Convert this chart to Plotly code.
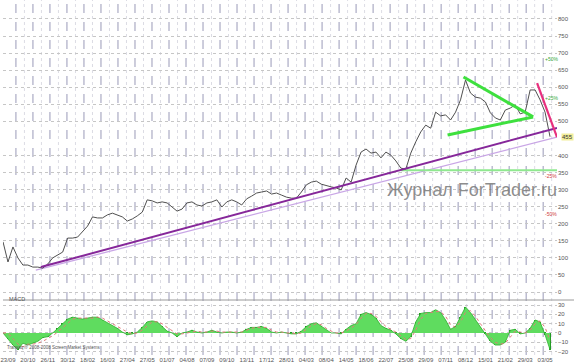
import plotly.graph_objects as go

# ---------------- data ----------------
# closing prices, one sample every ~5 px of the original chart
price = [
    147, 88, 132, 100, 79, 79, 73, 73, 70, 82,
    100, 108, 117, 158, 158, 161, 176, 193, 220, 217,
    217, 226, 231, 226, 220, 208, 214, 223, 234, 270,
    267, 261, 264, 261, 249, 237, 243, 261, 264, 255,
    252, 261, 264, 270, 249, 264, 270, 264, 255, 273,
    281, 290, 293, 296, 287, 290, 284, 278, 275, 275,
    293, 314, 322, 325, 316, 311, 308, 305, 299, 334,
    322, 372, 410, 419, 407, 410, 393, 410, 401, 384,
    363, 360, 407, 440, 469, 489, 480, 527, 516, 519,
    504, 527, 563, 621, 583, 571, 568, 557, 525, 510,
    504, 533, 539, 548, 522, 527, 592, 592, 563, 527,
    455,
]
macd = [
    0, -7, -13, -18, -11, -13, -11, -9, -5, -4,
    0, 5, 11, 15, 17, 16, 15, 16, 17, 17,
    14, 11, 8, 5, 1, -2, -1, 1, 6, 12,
    13, 12, 7, 2, 0, -4, 0, 1, 3, 1,
    0, 1, 3, 1, 0, 1, 1, 0, 1, 4,
    6, 6, 7, 5, 1, 0, 1, 0, -1, -1,
    2, 7, 10, 11, 7, 3, 0, 0, -1, 4,
    8, 10, 20, 22, 20, 16, 8, 5, 3, -1,
    -6, -9, -4, 12, 21, 22, 22, 25, 22, 14,
    4, 7, 17, 28, 22, 14, 6, -1, -9, -13,
    -13, -10, 3, 4, -1, 0, 5, 14, 12, -2,
    -18,
]
signal = [
    0, 0, -6, -12, -15, -12, -12, -11, -9, -6,
    -3, 1, 6, 11, 15, 16, 16, 16, 16, 17,
    16, 13, 10, 7, 4, 1, -1, 0, 3, 8,
    12, 12, 10, 6, 2, -1, -1, 0, 1, 2,
    1, 1, 2, 2, 1, 1, 1, 1, 1, 3,
    5, 6, 6, 6, 3, 1, 1, 0, 0, -1,
    0, 4, 8, 10, 9, 5, 2, 0, 0, 2,
    6, 9, 16, 21, 21, 18, 12, 7, 4, 1,
    -3, -7, -6, 3, 15, 21, 22, 23, 23, 18,
    9, 6, 12, 22, 24, 18, 10, 3, -5, -10,
    -12, -11, -4, 2, 1, 0, 3, 10, 13, 6,
    -8,
]
bars = list(range(len(price)))

x_labels = ["23/09", "20/10", "26/11", "30/12", "18/02", "16/03", "27/04",
            "27/05", "01/07", "04/08", "07/09", "09/10", "13/11", "17/12",
            "28/01", "04/03", "08/04", "14/05", "18/06", "22/07", "25/08",
            "29/09", "07/11", "08/12", "15/01", "21/02", "29/03", "03/05"]
label_bars = [1 + 4 * k for k in range(len(x_labels))]

# drawn trend lines (bar, price) end points
dark_trend_x, dark_trend_y = [7.6, 111.4], [73, 481]
light_trend_x, light_trend_y = [6.6, 111.4], [64, 454]
support_x, support_y = [80, 111.4], [357, 357]
tri_upper_x, tri_upper_y = [92.6, 106.6], [630, 513]
tri_lower_x, tri_lower_y = [89.4, 106.6], [460, 513]
pink_x, pink_y = [107.4, 111.4], [612, 454]

pct_levels = [50, 25, -25, -50]
last_price = price[-1]

# the highlighted last-price label replaces the nearest tick label
price_ticks = [t for t in range(0, 801, 50) if abs(t - last_price) >= 10]
macd_ticks = [-20, -10, 0, 10, 20, 30]

# ---------------- figure ----------------
FONT = "Liberation Sans"
fig = go.Figure()

# MACD panel
fig.add_trace(go.Scatter(x=bars, y=macd, xaxis="x", yaxis="y2", mode="lines",
                         line=dict(color="#2fae2f", width=0.8), fill="tozeroy",
                         fillcolor="#5fdc5f", hoverinfo="skip"))
fig.add_trace(go.Bar(x=bars, y=macd, xaxis="x", yaxis="y2", width=0.3,
                     marker=dict(color="#229a22", line=dict(width=0)), hoverinfo="skip"))
fig.add_trace(go.Scatter(x=bars, y=signal, xaxis="x", yaxis="y2", mode="lines",
                         line=dict(color="#e07a7a", width=1, dash="dot"), hoverinfo="skip"))

# main panel lines
def seg(xs, ys, color, width):
    fig.add_trace(go.Scatter(x=xs, y=ys, xaxis="x2", yaxis="y", mode="lines",
                             line=dict(color=color, width=width), hoverinfo="skip"))

seg(light_trend_x, light_trend_y, "#c9a6e6", 1.3)
seg(support_x, support_y, "#8fe88f", 2)
fig.add_trace(go.Scatter(x=bars, y=price, xaxis="x2", yaxis="y", mode="lines",
                         line=dict(color="#505050", width=1), hoverinfo="skip"))
seg(dark_trend_x, dark_trend_y, "#86279a", 2)
seg(tri_upper_x, tri_upper_y, "#3ee03e", 3)
seg(tri_lower_x, tri_lower_y, "#3ee03e", 3)
seg(pink_x, pink_y, "#e8307e", 2.2)

# vertical grid (month / mid-month lines)
shapes = []
k = 0
while 2.6 + 3.42 * k < 111.4:
    xd = 2.6 + 3.42 * k
    shapes.append(dict(type="line", xref="x", yref="paper", x0=xd, x1=xd, y0=0, y1=1,
                       line=dict(color="#9a9ab8", width=1, dash="dash"), layer="below"))
    xl = xd + 1.71
    if xl < 111.4:
        shapes.append(dict(type="line", xref="x", yref="paper", x0=xl, x1=xl, y0=0, y1=1,
                           line=dict(color="#dcdce4", width=1, dash="dot"), layer="below"))
    k += 1
# panel separator
shapes.append(dict(type="line", xref="paper", yref="paper", x0=0, x1=1.04,
                   y0=1 - 300 / 355, y1=1 - 300 / 355, line=dict(color="#9a9a9a", width=1)))

annotations = []
for p in pct_levels:
    annotations.append(dict(xref="paper", x=0.99, yref="y", y=last_price * (1 + p / 100),
                            text=(f"+{p}%" if p > 0 else f"{p}%"), showarrow=False,
                            xanchor="center", font=dict(family=FONT, size=5,
                            color="#3aaa3a" if p > 0 else "#d04040")))
annotations.append(dict(xref="paper", x=1.0, xshift=4, yref="y", y=last_price,
                        text=f"{last_price}", showarrow=False, xanchor="left",
                        bgcolor="#f2ee9a", borderpad=0,
                        font=dict(family=FONT, size=6, color="#333")))
annotations.append(dict(xref="paper", x=0.846, yref="y", y=298,
                        text="Журнал ForTrader.ru", showarrow=False, xanchor="center",
                        font=dict(family=FONT, size=18, color="rgba(120,120,120,0.85)")))
annotations.append(dict(xref="paper", x=0.008, yref="paper", y=1 - 304 / 355,
                        text="MACD", showarrow=False, xanchor="left",
                        font=dict(family=FONT, size=5.5, color="#555")))
annotations.append(dict(xref="paper", x=0.004, yref="paper", y=1 - 352 / 355,
                        text="Transaq ® 2008-2008 Screen Market Systems", showarrow=False,
                        xanchor="left", font=dict(family=FONT, size=4.5, color="#555")))

tickfont = dict(family=FONT, size=6, color="#555")
fig.update_layout(
    width=574, height=364,
    margin=dict(l=0, r=17, t=0, b=9),
    plot_bgcolor="white", paper_bgcolor="white",
    showlegend=False, bargap=0,
    xaxis=dict(domain=[0, 1], range=[0, 111.4], anchor="y2", tickvals=label_bars,
               ticktext=x_labels, tickangle=0, showgrid=False, zeroline=False,
               ticks="", tickfont=tickfont, showline=False, ticklabeloverflow="allow"),
    xaxis2=dict(matches="x", anchor="y", showticklabels=False, showgrid=False,
                zeroline=False, ticks=""),
    yaxis=dict(domain=[1 - 299 / 355, 1], range=[-20.5, 855.6], anchor="x2", side="right",
               tickvals=price_ticks, showgrid=True, gridcolor="#c6c6c6", griddash="dot",
               zeroline=False, ticks="", tickfont=tickfont),
    yaxis2=dict(domain=[0, 1 - 301 / 355], range=[-23.7, 34.4], anchor="x", side="right",
                tickvals=macd_ticks, showgrid=True, gridcolor="#c6c6c6", griddash="dot",
                zeroline=False, ticks="", tickfont=tickfont),
    shapes=shapes, annotations=annotations,
)

fig.write_html("out.html", config={"displayModeBar": False},
               post_script="document.body.style.margin='0';document.body.style.overflow='hidden';")
